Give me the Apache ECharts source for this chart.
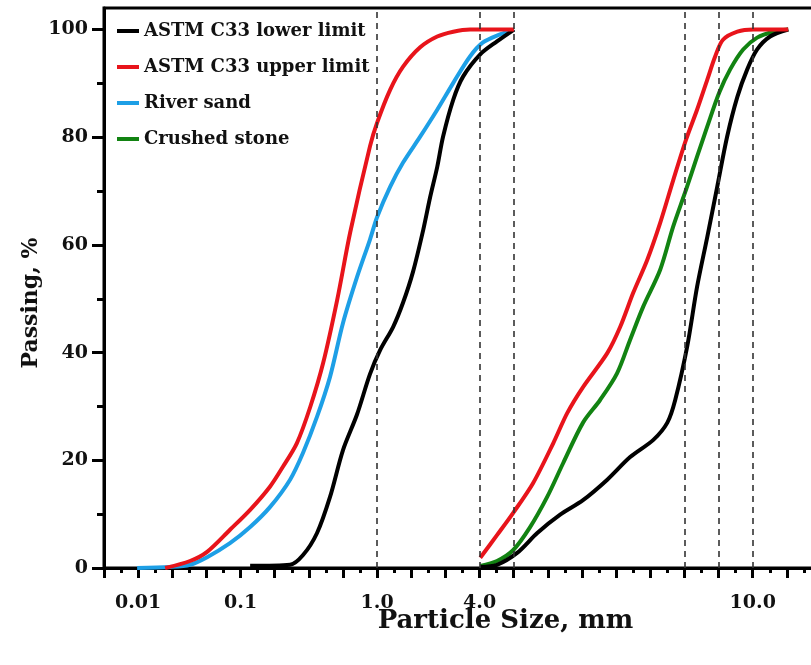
<!DOCTYPE html>
<html>
<head>
<meta charset="utf-8">
<script src="https://cdn.jsdelivr.net/npm/echarts@6/dist/echarts.min.js"></script>
<style>html,body{margin:0;padding:0;background:#fff}#c{width:811px;height:665px}</style>
</head>
<body>
<div id="c"></div>
<script>
// x values are positions on the figure's composite (broken) particle-size axis:
// one unit = one major tick; labelled ticks given below.
const xTickPositions = [1, 4, 8, 11, 19];
const xTickLabels = ['0.01', '0.1', '1.0', '4.0', '10.0'];
const sieveLinePositions = [8, 11, 12, 17, 18, 19];
const yTicks = [0, 20, 40, 60, 80, 100];
const yMinorTicks = [10, 30, 50, 70, 90];

const seriesNames = ['ASTM C33 lower limit', 'ASTM C33 upper limit', 'River sand', 'Crushed stone'];

// fine aggregate limits and river sand
const lowerFine = [[4.28,0.4],[5.45,0.6],[5.83,2.4],[6.24,6.5],[6.62,13.2],[7.00,21.9],[7.41,28.5],[7.79,36.0],[8.09,40.5],[8.47,44.8],[8.76,49.3],[9.05,55.0],[9.35,62.8],[9.55,68.8],[9.76,74.5],[9.93,80.1],[10.23,87.0],[10.52,91.3],[11.02,95.4],[11.51,97.8],[12.01,100]];
const upperFine = [[1.79,0],[2.52,1.3],[3.02,3.0],[3.69,7.1],[4.28,10.8],[4.86,15.1],[5.24,18.8],[5.65,23.2],[6.04,29.9],[6.42,38.1],[6.83,49.8],[7.21,62.3],[7.79,78.3],[8.0,82.7],[8.38,88.8],[8.76,93.1],[9.26,96.7],[9.76,98.7],[10.23,99.6],[10.72,100],[12.01,100]];
const riverSand = [[0.97,0],[1.93,0.2],[2.52,0.6],[3.02,2.0],[3.69,4.6],[4.28,7.6],[4.86,11.3],[5.45,16.4],[5.83,21.4],[6.24,28.1],[6.62,35.5],[7.00,45.5],[7.41,54.0],[7.79,61.0],[8.0,65.2],[8.38,70.8],[8.76,75.3],[9.26,80.1],[9.76,85.1],[10.23,90.1],[10.72,95.0],[11.10,97.6],[11.60,99.1],[12.01,100]];
// coarse aggregate limits and crushed stone
const lowerCoarse = [[11.02,0.2],[11.51,0.6],[12.10,2.8],[12.69,6.5],[13.36,9.9],[14.03,12.6],[14.74,16.4],[15.41,20.6],[16.09,23.8],[16.50,27.0],[16.73,31.2],[17.08,41.1],[17.37,52.2],[17.67,61.5],[17.96,70.8],[18.25,80.1],[18.55,87.5],[18.84,92.6],[19.13,96.3],[19.51,98.7],[20.04,100]];
const upperCoarse = [[11.02,1.9],[11.51,6.1],[11.98,10.2],[12.57,15.8],[13.16,23.2],[13.57,28.8],[14.03,33.6],[14.74,39.9],[15.12,44.8],[15.50,51.1],[15.91,57.2],[16.29,64.1],[16.67,72.0],[17.05,79.6],[17.37,85.1],[17.67,90.7],[17.90,95.0],[18.13,98.1],[18.55,99.6],[19.02,100],[20.04,100]];
const crushedStone = [[11.02,0.4],[11.51,1.3],[11.98,3.3],[12.48,7.6],[12.98,13.2],[13.45,19.5],[14.03,27.0],[14.53,31.2],[15.03,36.2],[15.41,42.4],[15.79,48.5],[16.29,55.4],[16.67,63.4],[17.05,70.3],[17.37,76.4],[17.67,82.0],[18.02,88.3],[18.34,92.6],[18.72,96.3],[19.13,98.5],[19.60,99.6],[20.04,100]];

const colors = {black:'#000000', red:'#e8141b', blue:'#1d9fe6', green:'#128312'};
const FONT = 'DejaVu Serif';

function line(name, data, color) {
  return {
    name: name, type: 'line', data: data, smooth: 0.3, showSymbol: false, symbol: 'none',
    lineStyle: {color: color, width: 4}, itemStyle: {color: color}, z: 3
  };
}

const chart = echarts.init(document.getElementById('c'), null, {renderer: 'canvas'});
chart.setOption({
  animation: false,
  backgroundColor: '#fff',
  grid: {left: 104, top: 8, height: 560, width: 717, outerBoundsMode: 'none', containLabel: false,
         show: true, borderColor: '#000', borderWidth: 3, backgroundColor: 'transparent'},
  legend: {
    orient: 'vertical', left: 112, top: 17, itemWidth: 22, itemHeight: 4, itemGap: 18,
    icon: 'rect',
    data: seriesNames,
    textStyle: {fontFamily: FONT, fontWeight: 'bold', fontSize: 18, color: '#111'}
  },
  xAxis: {
    type: 'value', min: 0, max: 21, interval: 1,
    name: 'Particle Size, mm', nameLocation: 'middle', nameGap: 40, nameMoveOverlap: false,
    nameTextStyle: {fontFamily: FONT, fontWeight: 'bold', fontSize: 26, color: '#111', padding: [0, 0, 0, 86]},
    axisLine: {lineStyle: {color: '#000', width: 3}},
    axisTick: {length: 10, lineStyle: {width: 3, color: '#000'}},
    minorTick: {show: true, splitNumber: 2, length: 5, lineStyle: {width: 3, color: '#000'}},
    splitLine: {show: false},
    axisLabel: {
      customValues: xTickPositions, margin: 26,
      formatter: function (v) { const i = xTickPositions.indexOf(v); return i >= 0 ? xTickLabels[i] : ''; },
      fontFamily: FONT, fontWeight: 'bold', fontSize: 19, color: '#111'
    }
  },
  yAxis: [{
    type: 'value', min: 0, max: 104,
    name: 'Passing, %', nameLocation: 'middle', nameGap: 62, nameMoveOverlap: false,
    nameTextStyle: {fontFamily: FONT, fontWeight: 'bold', fontSize: 22, color: '#111', padding: [0, 30, 0, 0]},
    axisLine: {lineStyle: {color: '#000', width: 3}},
    axisTick: {customValues: yTicks, length: 12, lineStyle: {width: 3, color: '#000'}},
    splitLine: {show: false},
    axisLabel: {customValues: yTicks, margin: 16, fontFamily: FONT, fontWeight: 'bold', fontSize: 19, color: '#111'}
  }, {
    type: 'value', min: 0, max: 104, position: 'left',
    axisLine: {show: false},
    axisTick: {show: true, customValues: yMinorTicks, length: 7, lineStyle: {width: 3, color: '#000'}},
    axisLabel: {show: false}, splitLine: {show: false}
  }],
  series: [
    {
      type: 'line', data: [], silent: true,
      markLine: {
        silent: true, symbol: ['none', 'none'], label: {show: false},
        lineStyle: {type: [6, 5], color: '#333', width: 1.6},
        data: sieveLinePositions.map(v => ({xAxis: v}))
      }
    },
    line(seriesNames[2], riverSand, colors.blue),
    line(seriesNames[0], lowerFine, colors.black),
    line(seriesNames[1], upperFine, colors.red),
    line(seriesNames[3], crushedStone, colors.green),
    line(seriesNames[0], lowerCoarse, colors.black),
    line(seriesNames[1], upperCoarse, colors.red)
  ]
});
</script>
</body>
</html>
